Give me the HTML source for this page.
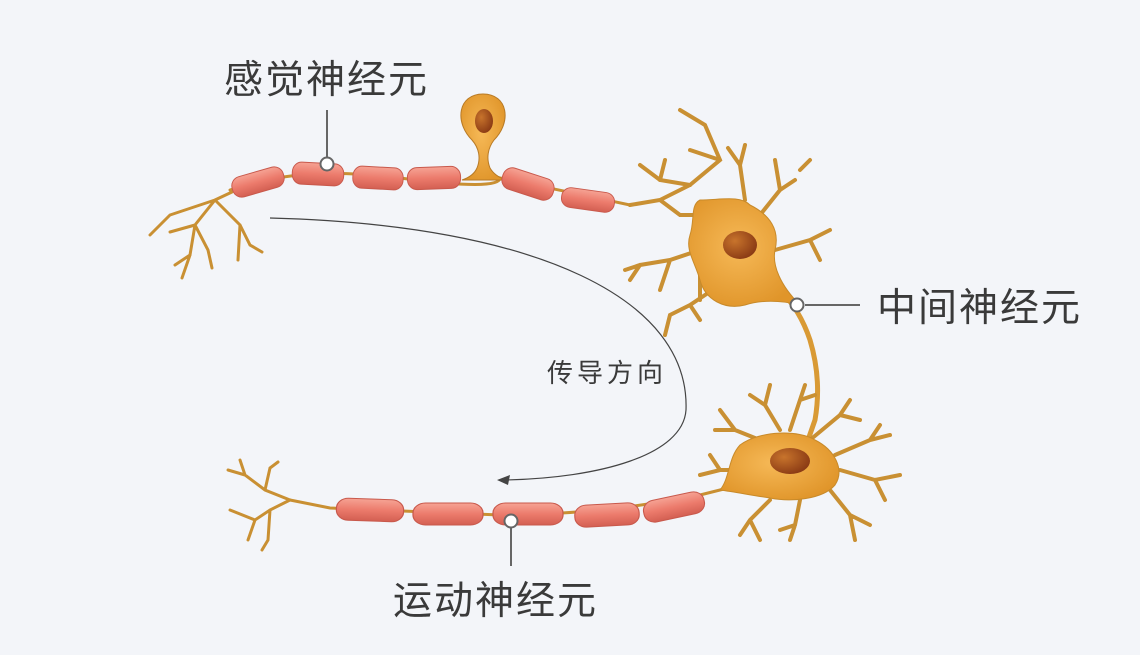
<!DOCTYPE html>
<html><head><meta charset="utf-8"><style>
html,body{margin:0;padding:0;background:#f3f5f9;}
svg{display:block}
text{font-family:"Liberation Sans","Noto Sans CJK SC",sans-serif;fill:#3a3a3a}
</style></head><body>
<svg width="1140" height="655" viewBox="0 0 1140 655" xmlns="http://www.w3.org/2000/svg">
<defs>
<linearGradient id="my" x1="0" y1="0" x2="0" y2="1">
<stop offset="0" stop-color="#f6a394"/><stop offset="0.5" stop-color="#ec7b6c"/><stop offset="1" stop-color="#d35f52"/></linearGradient>
<radialGradient id="bd" cx="0.45" cy="0.45" r="0.6">
<stop offset="0" stop-color="#f6b957"/><stop offset="1" stop-color="#e0952a"/></radialGradient>
<radialGradient id="nu" cx="0.35" cy="0.35" r="0.7">
<stop offset="0" stop-color="#c8742c"/><stop offset="1" stop-color="#8a3a14"/></radialGradient>
<g id="seg"><rect x="-28" y="-11" width="56" height="22" rx="10" fill="url(#my)" stroke="#c8594c" stroke-width="1"/></g>
</defs>
<g fill="none" stroke="#c99033" stroke-linecap="round">
<path d="M230,190 Q300,165 400,178 T500,178 Q560,190 630,205" stroke-width="3"/>
<path d="M232,192 L215,200 L195,225 L190,255 L182,278 M195,225 L208,250 L212,268 M215,200 L240,225 L250,245 L262,252 M215,200 L170,215 L150,235 M195,225 L170,232 M190,255 L175,265 M240,225 L238,260" stroke-width="3"/>
<path d="M630,205 L660,200 L690,185 L720,160 L705,125 M690,185 L660,180 L640,165 M660,200 L680,215 L700,215 M720,160 L690,150 M705,125 L680,110 M660,180 L665,160" stroke-width="4"/>
<path d="M700,250 L670,260 L640,265 L625,270 M670,260 L660,290 M640,265 L630,280 M700,270 L700,300 M720,285 L690,305 L670,315 L665,335 M690,305 L700,320" stroke-width="4"/>
<path d="M745,200 L740,165 L745,145 M740,165 L728,148 M760,215 L780,190 L795,180 M780,190 L775,160 M775,250 L810,240 L830,230 M810,240 L820,260 M800,170 L810,160" stroke-width="4"/>
<path d="M780,290 Q800,310 810,340 Q822,380 815,420 L808,440" stroke-width="5" stroke="#d99a35"/>
<path d="M780,430 L765,405 L750,395 M765,405 L770,385 M790,430 L800,400 L805,385 M800,400 L815,395 M810,440 L840,415 L850,400 M840,415 L860,420 M835,455 L870,440 L890,435 M870,440 L880,425 M840,470 L875,480 L900,475 M875,480 L885,500 M830,490 L850,515 L855,540 M850,515 L870,525 M800,500 L795,525 L790,540 M795,525 L780,530 M770,500 L750,520 L740,535 M750,520 L760,540 M760,440 L735,430 L715,430 M735,430 L720,410 M745,470 L720,470 L700,475 M720,470 L710,455" stroke-width="4"/>
<path d="M740,485 L700,495 Q600,515 500,515 L330,508 L290,500" stroke-width="3"/>
<path d="M290,500 L265,490 L245,475 L240,460 M265,490 L270,468 L278,462 M245,475 L228,470 M290,500 L270,510 L255,520 L230,510 M270,510 L268,540 L262,550 M255,520 L248,540" stroke-width="3"/>
</g>
<!-- sensory soma -->
<path d="M483,94 C508,94 512,122 494,140 C488,148 486,158 490,168 C494,175 500,178 506,180 L462,180 C468,178 474,175 477,168 C481,158 479,148 472,140 C454,122 458,94 483,94Z" fill="url(#bd)" stroke="#b87a25"/>
<ellipse cx="484" cy="121" rx="9" ry="12" fill="url(#nu)"/>
<use href="#seg" transform="translate(258,182) rotate(-16) scale(0.95,0.95)"/>
<use href="#seg" transform="translate(318,174) rotate(3) scale(0.92,1)"/>
<use href="#seg" transform="translate(378,178) rotate(3) scale(0.9,1)"/>
<use href="#seg" transform="translate(434,178) rotate(-2) scale(0.95,1)"/>
<use href="#seg" transform="translate(528,184) rotate(18) scale(0.95,1)"/>
<use href="#seg" transform="translate(588,200) rotate(8) scale(0.95,0.9)"/>
<path d="M700,200 C720,200 740,195 750,205 C770,215 780,230 775,250 C772,265 780,285 800,305 C780,300 760,300 745,305 C725,310 705,300 700,280 C695,262 685,250 690,235 C695,220 690,205 700,200Z" fill="url(#bd)" stroke="#c88a2a"/>
<ellipse cx="740" cy="245" rx="17" ry="14" fill="url(#nu)"/>
<path d="M740,445 C760,430 800,430 815,440 C835,450 845,470 835,485 C822,500 790,502 770,498 C750,495 735,492 720,490 C730,478 728,458 740,445Z" fill="url(#bd)" stroke="#c88a2a"/>
<ellipse cx="790" cy="461" rx="20" ry="13" fill="url(#nu)"/>
<use href="#seg" transform="translate(674,507) rotate(-12) scale(1.1,1)"/>
<use href="#seg" transform="translate(607,515) rotate(-3) scale(1.15,1)"/>
<use href="#seg" transform="translate(528,514) scale(1.25,1)"/>
<use href="#seg" transform="translate(448,514) scale(1.25,1)"/>
<use href="#seg" transform="translate(370,510) rotate(2) scale(1.2,1)"/>
<path d="M270,218 C540,225 690,300 686,410 C683,455 600,478 505,480" fill="none" stroke="#444" stroke-width="1.2"/>
<path d="M497,480 L510,475 L508,485Z" fill="#444"/>
<g stroke="#666" stroke-width="2">
<line x1="327" y1="110" x2="327" y2="158"/>
<line x1="805" y1="305" x2="860" y2="305"/>
<line x1="511" y1="528" x2="511" y2="566"/>
</g>
<g fill="#fff" stroke="#666" stroke-width="2">
<circle cx="327" cy="164" r="6.5"/>
<circle cx="797" cy="305" r="6.5"/>
<circle cx="511" cy="521" r="6.5"/>
</g>
<text x="224" y="93" font-size="39" letter-spacing="2">感觉神经元</text>
<text x="877" y="321" font-size="39" letter-spacing="2">中间神经元</text>
<text x="393" y="614" font-size="39" letter-spacing="2">运动神经元</text>
<text x="547" y="382" font-size="26" letter-spacing="4">传导方向</text>
</svg>
</body></html>
